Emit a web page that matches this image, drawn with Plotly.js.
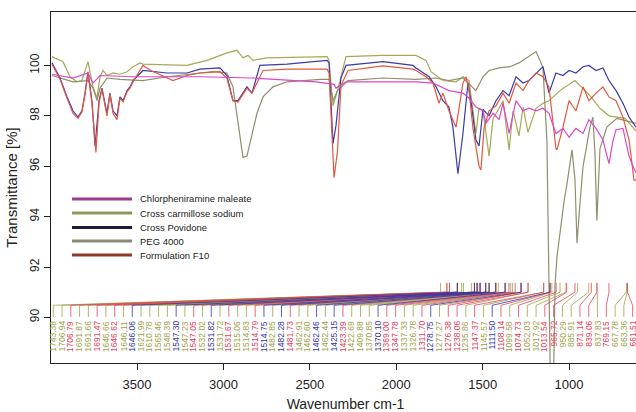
<!DOCTYPE html>
<html><head><meta charset="utf-8">
<script src="https://cdn.plot.ly/plotly-3.0.1.min.js"></script>
<style>html,body{margin:0;padding:0;overflow:hidden;background:#fff}</style>
</head><body><div id="chart" style="width:640px;height:412px"></div>
<script>
// ---- Data ----
const seriesNames = ["Chlorpheniramine maleate","Cross carmillose sodium","Cross Povidone","PEG 4000","Formulation F10"];

const wnCC = [3992,3929,3888,3848,3819,3784,3755,3732,3714,3697,3674,3639,3599,3558,3523,3483,3466,3211,3095,2980,2922,2887,2858,2829,2748,2464,2400,2389,2366,2340,2291,2077,1886,1828,1799,1730,1654,1614,1579,1556,1539,1521,1498,1463,1440,1405,1382,1347,1324,1290,1266,1238,1191,1151,1116,1053,966,879,821,769,676,613];
const tCC  = [100.35,100.15,99.55,99.35,99.4,100.15,99.15,98.7,99.55,99.8,99.6,99.7,99.65,99.75,99.95,100.1,100.05,100.0,100.2,100.5,100.6,100.3,100.4,100.2,100.3,100.35,100.35,100.2,98.4,99.0,100.35,100.4,100.4,100.2,99.75,99.4,99.35,99.55,99.4,98.2,97.3,98.3,98.2,96.4,97.9,98.3,98.6,96.65,98.2,97.2,98.35,97.35,98.3,98.5,98.6,99.0,99.4,98.8,98.3,98.0,97.9,97.4];

const wnPEG = [3992,3871,3784,3755,3732,3714,3674,3599,3466,3327,3060,2980,2945,2916,2887,2864,2835,2806,2771,2713,2632,2557,2441,2389,2366,2340,2279,2077,1886,1770,1695,1614,1539,1498,1463,1405,1342,1290,1232,1191,1168,1151,1128,1116,1105,1093,1081,1070,1053,1029,1012,983,966,954,937,919,879,862,850,839,821,798,781,723,665,613];
const tPEG  = [99.6,99.35,99.4,99.1,98.6,99.1,99.5,99.45,99.4,99.55,99.75,99.7,99.15,97.7,96.35,96.4,97.3,98.1,98.75,99.15,99.35,99.4,99.45,99.45,98.6,99.0,99.4,99.5,99.45,99.5,99.4,99.5,99.0,99.55,99.8,99.9,99.95,100.1,100.35,100.55,100.2,99.9,97.0,90.0,86.0,86.0,91.3,92.4,93.4,94.6,95.3,96.65,95.5,92.95,94.5,96.0,97.55,97.95,96.5,93.85,96.7,97.2,97.55,97.9,97.8,97.7];

const wnPV = [3992,3946,3905,3871,3842,3819,3801,3784,3761,3743,3720,3703,3674,3657,3639,3616,3599,3581,3558,3541,3523,3466,3327,3211,3136,3020,2980,2945,2916,2864,2835,2789,2632,2464,2400,2389,2366,2349,2320,2291,2077,1903,1886,1810,1770,1730,1695,1672,1643,1614,1585,1568,1539,1521,1498,1463,1423,1382,1347,1307,1266,1232,1191,1151,1116,1076,1035,1000,960,919,885,844,804,769,728,688,653,613];
const tPV  = [100.1,99.5,98.75,98.2,97.95,98.2,98.9,99.75,98.6,96.8,98.6,99.1,98.1,98.9,98.2,98.0,98.75,98.6,99.0,99.15,99.4,99.8,99.7,99.7,99.85,99.9,99.6,98.6,98.6,99.15,98.9,100.0,100.05,100.15,100.2,100.1,96.9,97.6,99.5,100.0,100.15,100.0,99.9,99.55,99.15,98.6,98.35,97.55,95.7,97.3,99.3,98.6,97.05,96.8,98.25,98.0,98.6,99.0,98.8,99.55,99.3,99.4,99.7,99.95,98.9,99.7,99.6,99.8,99.7,99.95,100.0,99.8,99.9,99.4,99.0,98.5,97.95,97.55];

const wnF10 = [3992,3946,3905,3871,3842,3819,3801,3784,3761,3738,3720,3703,3674,3657,3639,3616,3599,3581,3558,3541,3523,3466,3420,3292,3211,3136,3020,2980,2945,2916,2864,2835,2771,2632,2464,2400,2389,2360,2340,2320,2279,2077,1903,1886,1828,1787,1753,1730,1695,1654,1614,1596,1579,1556,1521,1510,1492,1463,1423,1382,1347,1307,1266,1232,1191,1151,1116,1076,1070,1035,1000,960,919,885,844,804,769,728,688,653,624,613];
const tF10  = [100.05,99.45,98.7,98.1,97.9,98.15,98.85,99.7,98.5,96.55,98.5,99.05,98.0,98.85,98.1,97.85,98.7,98.55,98.95,99.1,99.35,100.0,99.8,99.4,99.6,99.7,99.75,99.5,98.6,98.55,99.1,98.9,99.8,99.85,99.85,99.85,99.7,95.55,96.6,99.2,99.8,99.98,99.85,99.8,99.55,99.3,98.5,98.9,98.2,97.55,99.3,99.55,99.0,97.5,96.0,95.85,97.5,98.2,98.4,98.9,98.5,99.3,99.0,99.4,99.7,99.55,99.15,96.7,96.65,97.55,98.6,98.2,99.15,98.6,98.9,99.15,98.75,98.6,97.95,97.05,95.45,95.45];

const wnCM = [3992,3871,3784,3755,3714,3523,3136,2829,2464,2360,2349,2291,2077,1886,1787,1695,1614,1579,1539,1498,1481,1440,1405,1382,1347,1307,1266,1232,1191,1151,1116,1076,1035,1000,960,919,885,844,804,769,746,728,688,653,630,613];
const tCM  = [99.65,99.5,99.7,99.3,99.6,99.55,99.55,99.5,99.35,99.25,99.1,99.35,99.35,99.35,99.3,99.0,98.9,98.7,98.35,98.2,97.7,98.1,97.85,98.5,97.3,98.6,98.2,98.3,98.2,98.3,98.1,97.3,97.5,97.15,97.5,97.3,97.85,97.5,97.05,96.1,97.0,97.45,97.5,96.4,96.0,95.75];

const peakLabels = ["1743.38","1706.94","1706.79","1691.87","1691.66","1691.47","1646.66","1646.62","1646.11","1646.06","1621.99","1610.78","1565.46","1548.39","1547.30","1547.23","1547.05","1532.02","1531.82","1531.72","1531.67","1515.06","1514.83","1514.79","1514.75","1482.85","1482.28","1481.73","1462.91","1462.60","1462.46","1462.44","1425.15","1423.39","1422.69","1409.88","1370.85","1370.10","1369.00","1347.78","1337.33","1326.78","1311.70","1278.75","1277.27","1276.38","1238.06","1235.86","1147.37","1145.57","1111.50","1108.14","1099.58","1074.73","1052.03","1017.92","1013.54","965.72","950.29","885.91","871.14","839.06","837.83","769.15","667.78","663.36","661.51"];
const peakGroup = ["O","O","R","O","O","R","O","R","O","B","O","O","O","O","B","O","R","O","B","O","R","O","O","R","B","O","B","R","O","O","B","O","B","R","O","O","O","B","R","R","O","O","R","B","O","R","R","O","R","O","B","R","O","R","O","O","R","R","O","O","R","R","O","R","O","O","R"];

// ---- Styles ----
const lineColors = {cm:"#dc48c8", cc:"#a8a858", pv:"#3a3aa8", peg:"#8f8f6a", f10:"#e2583e"};
const legendColors = ["#9c3c8c","#8e9a5a","#1c1c40","#8a8a78","#8c3a28"];
const labelColors = {O:"#a0a048", R:"#e4405a", B:"#3535a5"};

const traces = [];
function spec(x, y, c){ traces.push({x:x, y:y, type:"scatter", mode:"lines", line:{color:c, width:1.2}, hoverinfo:"skip", showlegend:false}); }
spec(wnCC, tCC, lineColors.cc);
spec(wnPEG, tPEG, lineColors.peg);
spec(wnPV, tPV, lineColors.pv);
spec(wnF10, tF10, lineColors.f10);
spec(wnCM, tCM, lineColors.cm);

// peak label leader lines
const n = peakLabels.length;
const slotStart = 3985, slotEnd = 632;
const slots = peakLabels.map((_, i) => slotStart + (slotEnd - slotStart) * i / (n - 1));
const groups = {O:{x:[],y:[]}, R:{x:[],y:[]}, B:{x:[],y:[]}};
peakLabels.forEach((lab, i) => {
  const g = groups[peakGroup[i]], p = parseFloat(lab), s = slots[i];
  g.x.push(p, p, s, s, null);
  g.y.push(91.37, 91.0, 90.48, 90.02, null);
});
Object.keys(groups).forEach(k => {
  traces.push({x:groups[k].x, y:groups[k].y, type:"scatter", mode:"lines", line:{color:labelColors[k], width:0.8}, hoverinfo:"skip", showlegend:false});
});

const annotations = peakLabels.map((lab, i) => ({
  x: slots[i], y: 89.94, xref:"x", yref:"y", text: lab, showarrow:false,
  textangle:-90, xanchor:"center", yanchor:"top",
  font:{size:8.5, color:labelColors[peakGroup[i]], family:"Liberation Sans, Arial, sans-serif"}
}));

// custom legend
const L = 51, PW = 589, B = 363, PH = 351;
const px = v => (v - L) / PW, py = v => (B - v) / PH;
const legRows = [199, 213, 227.5, 241, 255];
const shapes = [];
seriesNames.forEach((name, i) => {
  shapes.push({type:"line", xref:"paper", yref:"paper", x0:px(72), x1:px(132), y0:py(legRows[i]), y1:py(legRows[i]), line:{color:legendColors[i], width:3}});
  annotations.push({xref:"paper", yref:"paper", x:px(138), y:py(legRows[i]), xanchor:"left", yanchor:"middle", text:name, showarrow:false,
    font:{size:9.5, color:"#222", family:"Liberation Sans, Arial, sans-serif"}});
});

const layout = {
  width:640, height:412,
  margin:{l:51, r:0, t:12, b:49},
  paper_bgcolor:"#fff", plot_bgcolor:"#fff",
  font:{family:"Liberation Sans, Arial, sans-serif", color:"#222"},
  showlegend:false,
  xaxis:{range:[3998, 589.4], autorange:false, tickvals:[3500,3000,2500,2000,1500,1000],
    showline:true, mirror:true, linecolor:"#222", linewidth:1, ticks:"outside", ticklen:6, tickcolor:"#222",
    showgrid:false, zeroline:false, tickfont:{size:13, color:"#222"}, ticklabelstandoff:3,
    title:{text:"Wavenumber cm-1", font:{size:14, color:"#222"}, standoff:8}},
  yaxis:{range:[88.19, 102.12], autorange:false, tickvals:[90,92,94,96,98,100],
    showline:true, mirror:true, linecolor:"#222", linewidth:1, ticks:"outside", ticklen:6, tickcolor:"#222",
    showgrid:false, zeroline:false, tickangle:-90, tickfont:{size:12, color:"#222"},
    title:{text:"Transmittance [%]", font:{size:15, color:"#222"}, standoff:6}},
  annotations: annotations,
  shapes: shapes
};

Plotly.newPlot("chart", traces, layout, {staticPlot:true, displayModeBar:false});
</script></body></html>
